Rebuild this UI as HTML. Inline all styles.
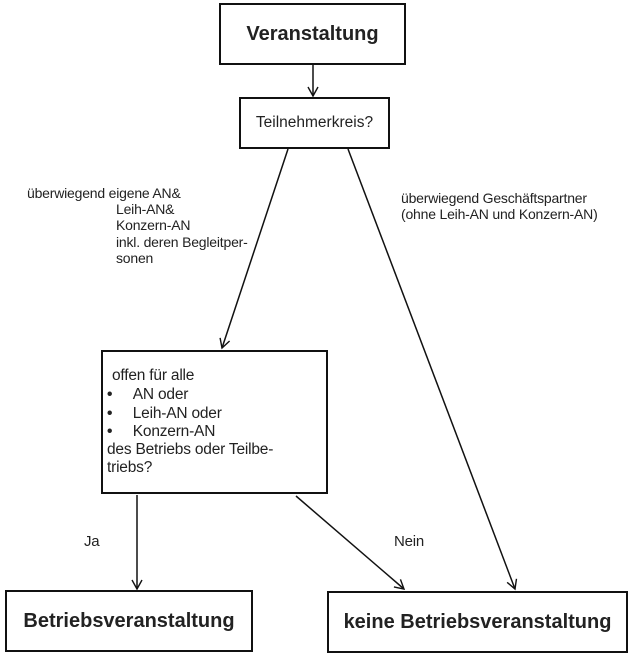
<!DOCTYPE html>
<html><head><meta charset="utf-8"><style>
body{margin:0;width:630px;height:658px;background:#fff;position:relative;font-family:"Liberation Sans",Arial,sans-serif;color:#222;overflow:hidden}
.b{position:absolute;border:2px solid #111;box-sizing:border-box;display:flex;align-items:center;justify-content:center;font-weight:bold;font-size:20px}
.t{position:absolute;font-size:14px;line-height:16.3px;white-space:nowrap;letter-spacing:-0.2px}
</style></head><body>
<svg width="630" height="658" style="position:absolute;left:0;top:0">
<defs><marker id="a" markerWidth="12" markerHeight="12" refX="10" refY="6" orient="auto" markerUnits="userSpaceOnUse"><path d="M1,1 L10,6 L1,11" fill="none" stroke="#111" stroke-width="1.4"/></marker></defs>
<g stroke="#111" stroke-width="1.5" fill="none">
<line x1="313" y1="64" x2="313" y2="96" marker-end="url(#a)"/>
<line x1="288" y1="149" x2="222" y2="348" marker-end="url(#a)"/>
<line x1="348" y1="149" x2="515" y2="589" marker-end="url(#a)"/>
<line x1="137" y1="495" x2="137" y2="589" marker-end="url(#a)"/>
<line x1="296" y1="496" x2="404" y2="589" marker-end="url(#a)"/>
</g></svg>
<div class="b" style="left:219px;top:3px;width:187px;height:62px">Veranstaltung</div>
<div class="b" style="left:239px;top:97px;width:151px;height:52px;font-weight:normal;font-size:15.5px">Teilnehmerkreis?</div>
<div class="b" style="left:101px;top:350px;width:227px;height:144px"></div>
<div class="b" style="left:5px;top:590px;width:248px;height:62px">Betriebsveranstaltung</div>
<div class="b" style="left:327px;top:591px;width:301px;height:62px">keine Betriebsveranstaltung</div>
<div class="t" style="left:27px;top:185px">überwiegend eigene AN&amp;</div>
<div class="t" style="left:116px;top:201px">Leih-AN&amp;<br>Konzern-AN<br>inkl. deren Begleitper-<br>sonen</div>
<div class="t" style="left:401px;top:190px">überwiegend Geschäftspartner<br>(ohne Leih-AN und Konzern-AN)</div>
<div class="t" style="left:112px;top:367px;font-size:15.5px;line-height:18.5px">offen für alle</div>
<div class="t" style="left:107px;top:386px;font-size:15.5px;line-height:18.5px"><b>•</b>&nbsp;&nbsp;&nbsp;&nbsp;&nbsp;AN oder<br><b>•</b>&nbsp;&nbsp;&nbsp;&nbsp;&nbsp;Leih-AN oder<br><b>•</b>&nbsp;&nbsp;&nbsp;&nbsp;&nbsp;Konzern-AN</div>
<div class="t" style="left:107px;top:441px;font-size:15.5px;line-height:17.5px">des Betriebs oder Teilbe-<br>triebs?</div>
<div class="t" style="left:84px;top:534px;font-size:15px">Ja</div>
<div class="t" style="left:394px;top:534px;font-size:15px">Nein</div>
</body></html>
